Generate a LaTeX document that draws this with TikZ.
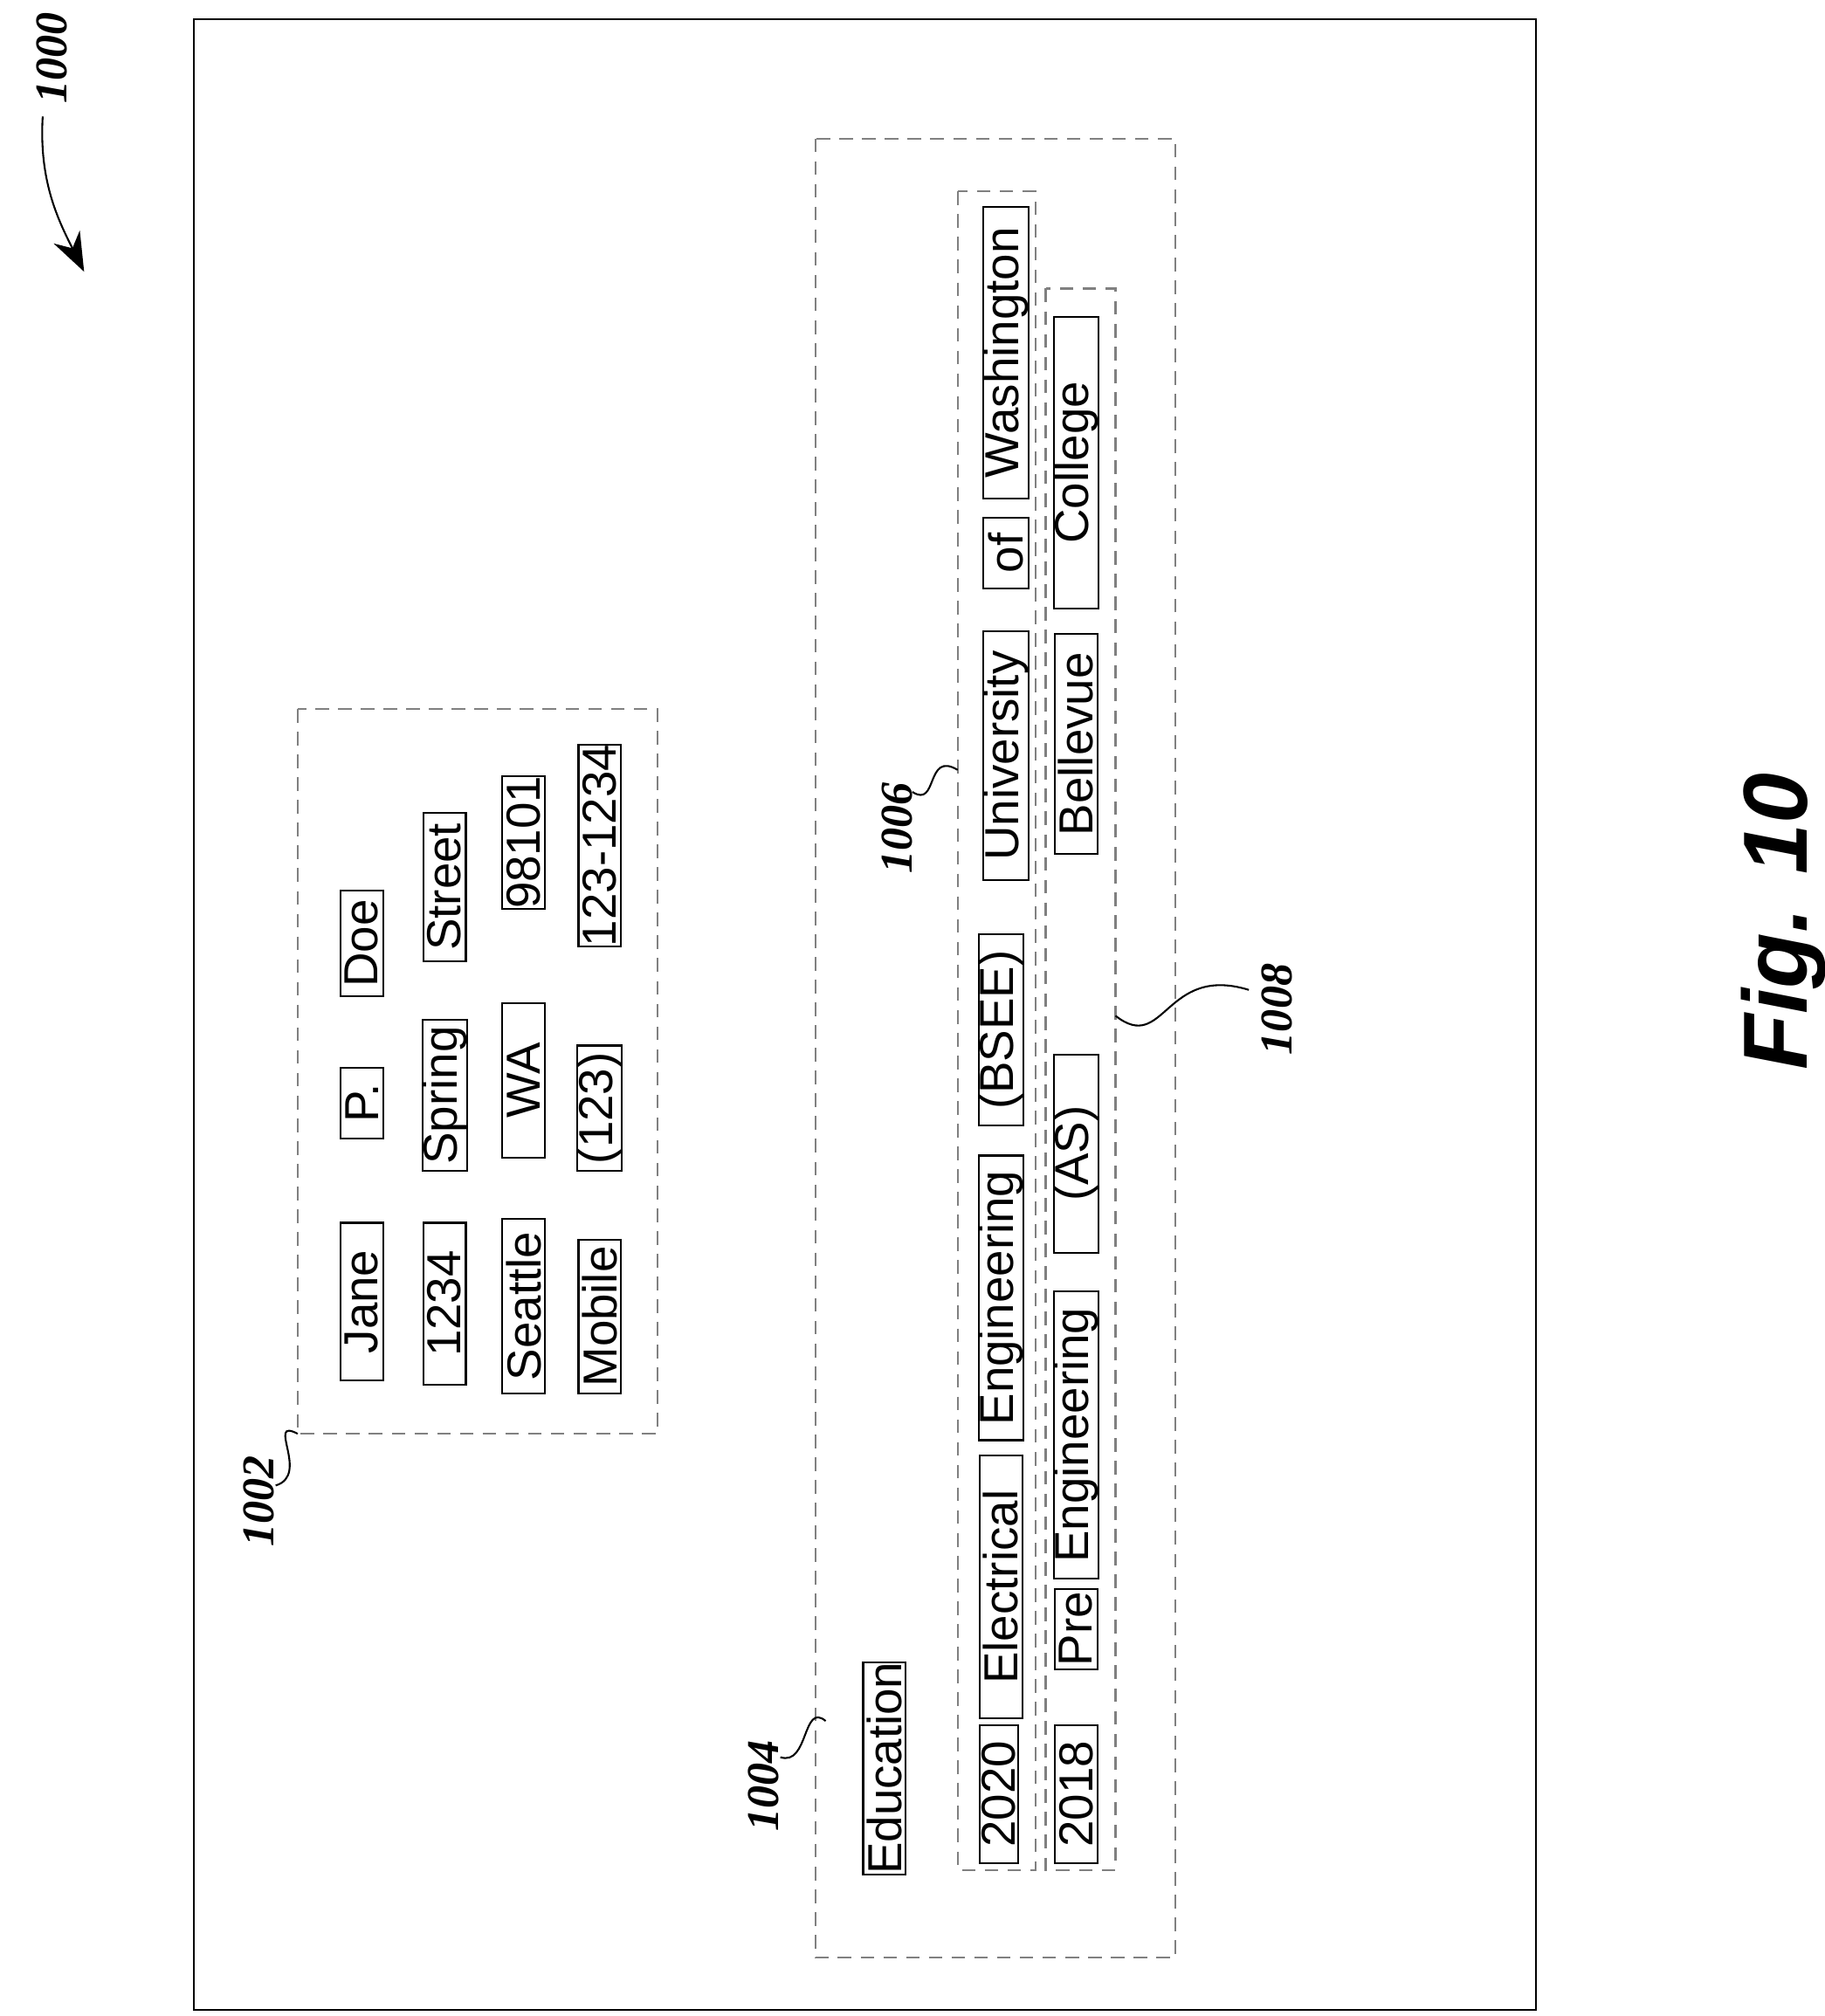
\documentclass[tikz,border=0pt]{standalone}
\usepackage{fontspec}
\setmainfont{Liberation Sans}
\newfontfamily\refnum{Liberation Serif}
\usetikzlibrary{arrows.meta}

\newcommand\wordbox[6]{%
  \node[word,minimum width={(#5-#4)*0.1mm},minimum height={(#3-#2)*0.1mm}]
    (#1) at ({(#2+#3)/2},{(#4+#5)/2}) {#6};}

\begin{document}
\begin{tikzpicture}[x=0.1mm,y=-0.1mm]
\tikzset{word/.style={draw,rotate=90,inner sep=0pt,font=\fontsize{10.5}{12}\selectfont},
  group/.style={draw,densely dashed,gray},
  refl/.style={font=\refnum\bfseries\itshape\fontsize{10}{12}\selectfont,rotate=90}}
\useasboundingbox (0,0) rectangle (1410,1558);
\draw (150,15) rectangle (1187,1553);
% figure reference
\node[refl] (r1000) at (40,45) {1000};
\draw[-{Stealth[length=3mm]}] (33,90) .. controls (30,140) and (45,170) .. (65,210);
% name and address block
\draw[group] (230,548) rectangle (508,1108);
\coordinate (g1002) at (230,1108);
\node[refl] (r1002) at (200,1160) {1002};
\draw (g1002) .. controls (205,1095) and (240,1140) .. (213,1148);
\wordbox{jane}{263}{296}{945}{1067}{Jane}
\wordbox{pinit}{263}{296}{825}{880}{P.}
\wordbox{doe}{263}{296}{688}{770}{Doe}
\wordbox{num}{327}{360}{945}{1070}{1234}
\wordbox{spring}{327}{360}{788}{905}{Spring}
\wordbox{street}{327}{360}{628}{743}{Street}
\wordbox{seattle}{388}{421}{942}{1077}{Seattle}
\wordbox{wa}{388}{421}{775}{895}{WA}
\wordbox{zip}{388}{421}{602}{700}{98101}
\wordbox{mobile}{447}{480}{958}{1077}{Mobile}
\wordbox{area}{447}{480}{808}{905}{(123)}
\wordbox{phone}{447}{480}{587}{720}{123-1234}
% education block
\draw[group] (630,107) rectangle (908,1513);
\coordinate (g1004) at (638,1330);
\node[refl] (r1004) at (590,1380) {1004};
\draw (g1004) .. controls (620,1315) and (625,1365) .. (603,1358);
\wordbox{educ}{667}{700}{1288}{1445}{Education}
\draw[group] (740,148) rectangle (800,1445);
\coordinate (g1006) at (740,595);
\node[refl] (r1006) at (693,640) {1006};
\draw (g1006) .. controls (715,580) and (725,625) .. (705,612);
\wordbox{yra}{757}{787}{1333}{1440}{2020}
\wordbox{elec}{757}{790}{1125}{1328}{Electrical}
\wordbox{enga}{757}{790}{893}{1113}{Engineering}
\wordbox{bsee}{757}{790}{722}{870}{(BSEE)}
\wordbox{univ}{760}{795}{488}{680}{University}
\wordbox{of}{760}{795}{400}{455}{of}
\wordbox{wash}{760}{795}{160}{385}{Washington}
\draw[group] (808,223) rectangle (862,1445);
\coordinate (g1008) at (862,785);
\node[refl] (r1008) at (987,780) {1008};
\draw (g1008) .. controls (900,815) and (900,745) .. (965,765);
\wordbox{yrb}{815}{848}{1333}{1440}{2018}
\wordbox{pre}{815}{848}{1228}{1290}{Pre}
\wordbox{engb}{815}{848}{998}{1220}{Engineering}
\wordbox{as}{815}{848}{815}{968}{(AS)}
\wordbox{bell}{815}{848}{490}{660}{Bellevue}
\wordbox{coll}{815}{848}{245}{470}{College}
\node[rotate=90,font=\bfseries\itshape\fontsize{20}{24}\selectfont] (fig) at (1378,712) {Fig. 10};
\end{tikzpicture}
\end{document}
